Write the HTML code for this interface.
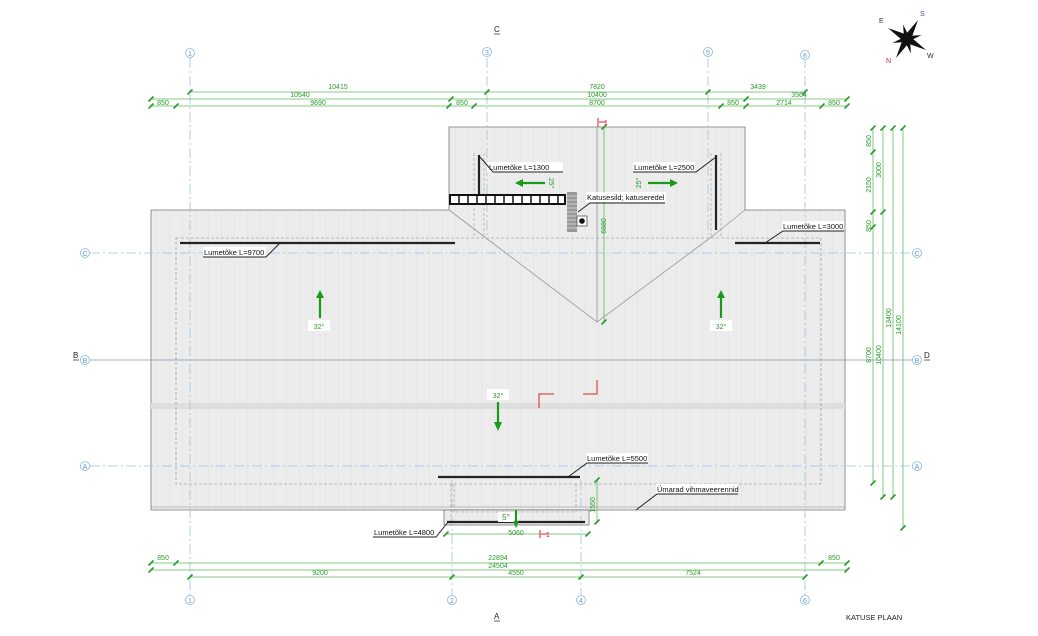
<!DOCTYPE html>
<html><head><meta charset="utf-8"><style>
html,body{margin:0;padding:0;background:#fff;}
svg{display:block;font-family:"Liberation Sans",sans-serif;}
.g{fill:#2a9a2a;font-size:7px;text-anchor:middle;}
.dl{stroke:#5cbf5c;stroke-width:0.8;fill:none;}
.gl{stroke:#9cc4e4;stroke-width:0.8;stroke-dasharray:10 3 2 3;fill:none;}
.bub{fill:#fff;stroke:#8bb8e0;stroke-width:0.8;}
.bt{fill:#5a9ad0;font-size:7px;text-anchor:middle;}
.lbl{font-size:7.5px;fill:#111;}
.bar{stroke:#222;stroke-width:2.2;}
.ld{stroke:#222;stroke-width:1;fill:none;}
</style></head><body>
<svg width="1038" height="636" viewBox="0 0 1038 636" xmlns="http://www.w3.org/2000/svg">
<defs>
<pattern id="p" width="13" height="10" patternUnits="userSpaceOnUse"><rect width="13" height="10" fill="#ececec"/><line x1="0.5" y1="0" x2="0.5" y2="10" stroke="#e3e3e3" stroke-width="0.6"/></pattern>
<g id="t"><line x1="-2.5" y1="2.5" x2="2.5" y2="-2.5" stroke="#2a9a2a" stroke-width="1.6"/></g>
</defs>

<!-- roof -->
<path d="M151 210 H449 V127 H745 V210 H845 V510 H151 Z" fill="url(#p)" stroke="#777" stroke-width="0.8"/>
<line x1="151" y1="507" x2="845" y2="507" stroke="#888" stroke-width="0.6"/>
<rect x="444" y="510" width="145" height="15" fill="url(#p)" stroke="#777" stroke-width="0.8"/>
<rect x="151" y="403" width="694" height="6" fill="#dedede"/>
<rect x="176" y="238" width="645" height="246" fill="none" stroke="#888" stroke-width="0.6" stroke-dasharray="3 2"/>
<path d="M474 153 V238 M484 153 V238 M711 153 V238 M721 153 V238" stroke="#999" stroke-width="0.6" stroke-dasharray="3 2"/>
<path d="M451 484 V525 M454 484 V512 H576 V484" fill="none" stroke="#999" stroke-width="0.6" stroke-dasharray="3 2"/>
<path d="M449 210 L486 238 L597 322 L710 238 L745 210" fill="none" stroke="#999" stroke-width="0.8"/>
<line x1="597" y1="127" x2="597" y2="322" stroke="#999" stroke-width="0.8"/>

<!-- grid lines -->
<g class="gl">
<line x1="190" y1="58" x2="190" y2="595"/>
<line x1="487" y1="58" x2="487" y2="240"/>
<line x1="708" y1="58" x2="708" y2="240"/>
<line x1="805" y1="58" x2="805" y2="595"/>
<line x1="452" y1="480" x2="452" y2="595"/>
<line x1="581" y1="480" x2="581" y2="595"/>
<line x1="90" y1="253" x2="912" y2="253"/>
<line x1="90" y1="466" x2="912" y2="466"/>
</g>
<line x1="90" y1="360" x2="912" y2="360" stroke="#7a9ab8" stroke-width="0.8"/>
<g>
<circle class="bub" cx="190" cy="53" r="4.5"/><text class="bt" x="190" y="56">1</text>
<circle class="bub" cx="487" cy="52" r="4.5"/><text class="bt" x="487" y="55">3</text>
<circle class="bub" cx="708" cy="52" r="4.5"/><text class="bt" x="708" y="55">5</text>
<circle class="bub" cx="805" cy="55" r="4.5"/><text class="bt" x="805" y="58">6</text>
<circle class="bub" cx="190" cy="600" r="4.5"/><text class="bt" x="190" y="603">1</text>
<circle class="bub" cx="452" cy="600" r="4.5"/><text class="bt" x="452" y="603">2</text>
<circle class="bub" cx="581" cy="600" r="4.5"/><text class="bt" x="581" y="603">4</text>
<circle class="bub" cx="805" cy="600" r="4.5"/><text class="bt" x="805" y="603">6</text>
<circle class="bub" cx="85" cy="253" r="4.5"/><text class="bt" x="85" y="256">C</text>
<circle class="bub" cx="85" cy="360" r="4.5"/><text class="bt" x="85" y="363">B</text>
<circle class="bub" cx="85" cy="466" r="4.5"/><text class="bt" x="85" y="469">A</text>
<circle class="bub" cx="917" cy="253" r="4.5"/><text class="bt" x="917" y="256">C</text>
<circle class="bub" cx="917" cy="360" r="4.5"/><text class="bt" x="917" y="363">B</text>
<circle class="bub" cx="917" cy="466" r="4.5"/><text class="bt" x="917" y="469">A</text>
</g>

<!-- top dims -->
<path class="dl" d="M190 92 H805 M151 99 H847 M151 106 H847"/>
<use href="#t" x="190" y="92"/><use href="#t" x="487" y="92"/><use href="#t" x="708" y="92"/><use href="#t" x="805" y="92"/>
<use href="#t" x="151" y="99"/><use href="#t" x="451" y="99"/><use href="#t" x="746" y="99"/><use href="#t" x="847" y="99"/>
<use href="#t" x="151" y="106"/><use href="#t" x="176" y="106"/><use href="#t" x="449" y="106"/><use href="#t" x="474" y="106"/><use href="#t" x="721" y="106"/><use href="#t" x="746" y="106"/><use href="#t" x="822" y="106"/><use href="#t" x="847" y="106"/>
<text class="g" x="338" y="89">10415</text><text class="g" x="597" y="89">7820</text><text class="g" x="758" y="89">3439</text>
<text class="g" x="300" y="97">10540</text><text class="g" x="597" y="97">10400</text><text class="g" x="799" y="97">3564</text>
<text class="g" x="163" y="105">850</text><text class="g" x="318" y="105">9690</text><text class="g" x="462" y="105">850</text><text class="g" x="597" y="105">8700</text><text class="g" x="733" y="105">850</text><text class="g" x="784" y="105">2714</text><text class="g" x="834" y="105">850</text>

<!-- bottom dims -->
<path class="dl" d="M151 563 H847 M151 570 H847 M190 577 H805 M446 534 H588 M597 480 V522"/>
<use href="#t" x="151" y="563"/><use href="#t" x="176" y="563"/><use href="#t" x="821" y="563"/><use href="#t" x="847" y="563"/>
<use href="#t" x="151" y="570"/><use href="#t" x="847" y="570"/>
<use href="#t" x="190" y="577"/><use href="#t" x="452" y="577"/><use href="#t" x="581" y="577"/><use href="#t" x="805" y="577"/>
<use href="#t" x="446" y="534"/><use href="#t" x="588" y="534"/><use href="#t" x="597" y="480"/><use href="#t" x="597" y="522"/>
<text class="g" x="163" y="560">850</text><text class="g" x="498" y="560">22894</text><text class="g" x="834" y="560">850</text>
<text class="g" x="498" y="568">24504</text>
<text class="g" x="320" y="575">9200</text><text class="g" x="516" y="575">4550</text><text class="g" x="693" y="575">7524</text>
<text class="g" x="516" y="535">5060</text>
<text class="g" transform="translate(595,505) rotate(-90)">1550</text>

<!-- right dims -->
<path class="dl" d="M873 128 V483 M883 128 V497 M893 128 V497 M903 128 V528"/>
<use href="#t" x="873" y="128"/><use href="#t" x="873" y="152"/><use href="#t" x="873" y="212"/><use href="#t" x="873" y="227"/><use href="#t" x="873" y="483"/>
<use href="#t" x="883" y="128"/><use href="#t" x="883" y="212"/><use href="#t" x="883" y="497"/>
<use href="#t" x="893" y="128"/><use href="#t" x="893" y="497"/>
<use href="#t" x="903" y="128"/><use href="#t" x="903" y="528"/>
<text class="g" transform="translate(871,141) rotate(-90)">850</text>
<text class="g" transform="translate(871,185) rotate(-90)">2150</text>
<text class="g" transform="translate(871,226) rotate(-90)">850</text>
<text class="g" transform="translate(881,170) rotate(-90)">3000</text>
<text class="g" transform="translate(871,355) rotate(-90)">8700</text>
<text class="g" transform="translate(881,355) rotate(-90)">10400</text>
<text class="g" transform="translate(891,318) rotate(-90)">13400</text>
<text class="g" transform="translate(901,325) rotate(-90)">14100</text>
<line class="dl" x1="604" y1="127" x2="604" y2="322"/><use href="#t" x="604" y="127"/><use href="#t" x="604" y="322"/>
<text class="g" transform="translate(606,226) rotate(-90)">6880</text>

<!-- red marks -->
<g stroke="#d22" stroke-width="1" fill="none">
<path d="M539 408 V394 H554"/><path d="M583 394 H597 V380"/>
<path d="M598 118 V127 M599 122 H606"/><path d="M540 530 V538 M541 534 H548"/>
</g>
<text x="604" y="125" font-size="7" fill="#d22">1</text>
<text x="546" y="537" font-size="7" fill="#d22">1</text>

<!-- snow bars -->
<g class="bar">
<line x1="180" y1="243" x2="455" y2="243"/><line x1="735" y1="243" x2="820" y2="243"/>
<line x1="479" y1="155" x2="479" y2="196"/><line x1="716" y1="155" x2="716" y2="230"/>
<line x1="438" y1="477" x2="580" y2="477"/><line x1="447" y1="522" x2="585" y2="522"/>
</g>
<rect x="450" y="195" width="115" height="9" fill="#fff" stroke="#111" stroke-width="2"/>
<path d="M459 195 V204 M468 195 V204 M477 195 V204 M486 195 V204 M495 195 V204 M504 195 V204 M513 195 V204 M522 195 V204 M531 195 V204 M540 195 V204 M549 195 V204 M558 195 V204" stroke="#111" stroke-width="1.5"/>
<rect x="567" y="192" width="10" height="40" fill="#999"/>
<path d="M567 196 H577 M567 200 H577 M567 204 H577 M567 208 H577 M567 212 H577 M567 216 H577 M567 220 H577 M567 224 H577 M567 228 H577" stroke="#ccc" stroke-width="1"/>
<rect x="577" y="216" width="10" height="10" fill="#fff" stroke="#555" stroke-width="0.8"/><circle cx="582" cy="221" r="2.8" fill="#111"/>

<!-- callouts -->
<g>
<rect x="487" y="162" width="76" height="10" fill="#fff"/><text class="lbl" x="489" y="170">Lumetõke L=1300</text><path class="ld" d="M480 157 L493 172 H563"/>
<rect x="633" y="162" width="62" height="10" fill="#fff"/><text class="lbl" x="634" y="170">Lumetõke L=2500</text><path class="ld" d="M633 172 H696 L716 157"/>
<rect x="586" y="192" width="80" height="10" fill="#fff"/><text class="lbl" x="587" y="200">Katusesild; katuseredel</text><path class="ld" d="M578 212 L590 203 H665"/>
<rect x="782" y="221" width="62" height="10" fill="#fff"/><text class="lbl" x="783" y="229">Lumetõke L=3000</text><path class="ld" d="M765 243 L783 231 H844"/>
<rect x="203" y="247" width="63" height="10" fill="#fff"/><text class="lbl" x="204" y="255">Lumetõke L=9700</text><path class="ld" d="M203 257 H266 L280 243"/>
<rect x="586" y="453" width="62" height="10" fill="#fff"/><text class="lbl" x="587" y="461">Lumetõke L=5500</text><path class="ld" d="M568 477 L587 463 H648"/>
<rect x="656" y="484" width="82" height="10" fill="#fff"/><text class="lbl" x="657" y="492">Ümarad vihmaveerennid</text><path class="ld" d="M636 510 L657 494 H738"/>
<rect x="373" y="527" width="63" height="10" fill="#fff"/><text class="lbl" x="374" y="535">Lumetõke L=4800</text><path class="ld" d="M373 537 H436 L448 522"/>
</g>

<!-- slope arrows -->
<g fill="#1a9a1a" stroke="#1a9a1a">
<line x1="320" y1="318" x2="320" y2="297" stroke-width="2.2"/><path d="M316 298 L320 290 L324 298 Z" stroke="none"/>
<line x1="721" y1="318" x2="721" y2="297" stroke-width="2.2"/><path d="M717 298 L721 290 L725 298 Z" stroke="none"/>
<line x1="498" y1="402" x2="498" y2="423" stroke-width="2.2"/><path d="M494 422 L498 431 L502 422 Z" stroke="none"/>
<line x1="545" y1="183" x2="522" y2="183" stroke-width="2.2"/><path d="M523 179 L515 183 L523 187 Z" stroke="none"/>
<line x1="648" y1="183" x2="671" y2="183" stroke-width="2.2"/><path d="M670 179 L678 183 L670 187 Z" stroke="none"/>
<line x1="516" y1="510" x2="516" y2="522" stroke-width="2"/><path d="M513 521 L516 528 L519 521 Z" stroke="none"/>
</g>
<rect x="308" y="320" width="22" height="11" fill="#fff"/><text class="g" x="319" y="329">32°</text>
<rect x="710" y="320" width="22" height="11" fill="#fff"/><text class="g" x="721" y="329">32°</text>
<rect x="487" y="389" width="22" height="11" fill="#fff"/><text class="g" x="498" y="398">32°</text>
<rect x="498" y="512" width="16" height="10" fill="#fff"/><text class="g" x="506" y="520" style="font-size:8px">5°</text>
<text class="g" transform="translate(549,183) rotate(90)">25°</text>
<text class="g" transform="translate(641,183) rotate(-90)">25°</text>

<!-- labels -->
<text x="494" y="32" font-size="8" fill="#222">C</text><line x1="494" y1="34" x2="500" y2="34" stroke="#222" stroke-width="0.7"/>
<text x="494" y="619" font-size="8" fill="#222">A</text><line x1="494" y1="621" x2="500" y2="621" stroke="#222" stroke-width="0.7"/>
<text x="73" y="358" font-size="8" fill="#222">B</text><line x1="73" y1="360" x2="79" y2="360" stroke="#222" stroke-width="0.7"/>
<text x="924" y="358" font-size="8" fill="#222">D</text><line x1="924" y1="360" x2="930" y2="360" stroke="#222" stroke-width="0.7"/>
<text x="846" y="620" font-size="7.5" fill="#222">KATUSE PLAAN</text>

<!-- compass -->
<g transform="translate(907,39)">
<g fill="#111">
<path d="M0 -22 L4 0 L0 22 L-4 0 Z" transform="rotate(30)"/>
<path d="M0 -22 L4 0 L0 22 L-4 0 Z" transform="rotate(120)"/>
<path d="M0 -15 L3 0 L0 15 L-3 0 Z" transform="rotate(75)"/>
<path d="M0 -15 L3 0 L0 15 L-3 0 Z" transform="rotate(165)"/>
</g>
</g>
<text x="879" y="23" font-size="7" fill="#333">E</text>
<text x="920" y="16" font-size="7" fill="#4a4aa0">S</text>
<text x="927" y="58" font-size="7" fill="#333">W</text>
<text x="886" y="63" font-size="7" fill="#c22">N</text>
</svg>
</body></html>
